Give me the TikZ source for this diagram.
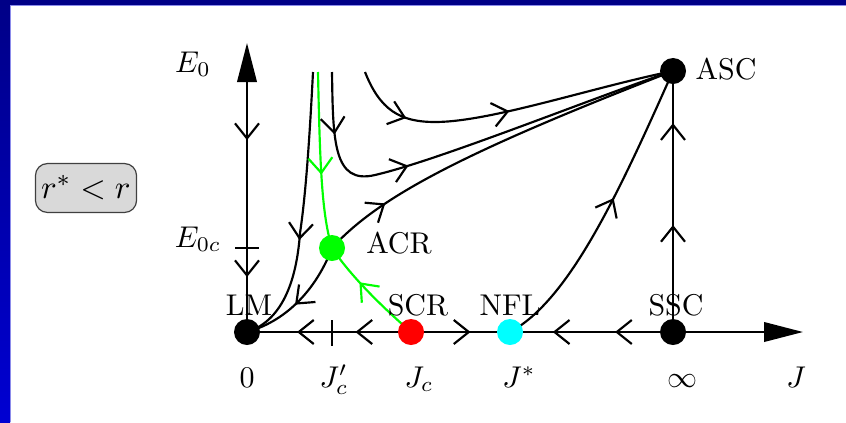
\documentclass[tikz,border=0pt]{standalone}
\usetikzlibrary{arrows.meta,decorations.markings}
\definecolor{navy}{RGB}{0,0,135}
\definecolor{bblue}{RGB}{0,0,210}
\definecolor{edgeblue}{RGB}{140,140,235}
\definecolor{boxgray}{RGB}{217,217,217}
\definecolor{purecyan}{RGB}{0,255,255}
\definecolor{puregreen}{RGB}{0,255,0}
\definecolor{purered}{RGB}{255,0,0}
\pgfdeclarelayer{bg}
\pgfsetlayers{bg,main}
\tikzset{
  ln/.style={line width=0.72pt},
  sb/.tip={Straight Barb[length=5pt,width=8pt]},
  fwd/.style={postaction={decorate,decoration={markings,mark=at position #1 with {\arrow{sb}}}}},
  bwd/.style={postaction={decorate,decoration={markings,mark=at position #1 with {\arrowreversed{sb}}}}},
  dot/.style={circle,inner sep=0pt,minimum size=8.67pt},
  lab/.style={anchor=base,inner sep=0pt},
  bigtip/.style={-{Triangle[length=13pt,width=6.5pt]}},
}
\begin{document}
\begin{tikzpicture}[x=0.33333pt,y=-0.33333pt]
\useasboundingbox (0,0) rectangle (846,422);

% fixed points
\node[dot,fill=black] (LM) at (247,332) {};
\node[dot,fill=puregreen] (ACR) at (332,248) {};
\node[dot,fill=purered] (SCR) at (411,332) {};
\node[dot,fill=purecyan] (NFL) at (510,332) {};
\node[dot,fill=black] (SSC) at (673,332) {};
\node[dot,fill=black] (ASC) at (673,71) {};

\coordinate (Etop) at (247,43);
\coordinate (Jend) at (803,332);
\coordinate (t1) at (313,72);
\coordinate (t2) at (318,72);
\coordinate (t3) at (332,72);
\coordinate (t4) at (365,72);

\begin{pgfonlayer}{bg}
\fill[white] (0,0) rectangle (846,422);
\shade[top color=navy,bottom color=bblue] (0,0) rectangle (10,422);
\fill[navy] (0,0) rectangle (846,5);
\draw[edgeblue,line width=0.35pt] (10.5,422) -- (10.5,5.5) -- (846,5.5);
% axes
\draw[ln,bigtip,bwd=0.19,bwd=0.664] (LM.center) -- (Etop);
\draw[ln,bigtip,bwd=0.09,bwd=0.195,fwd=0.402,bwd=0.55,bwd=0.662] (LM.center) -- (Jend);
% ticks
\draw[ln] (235,248) -- (259,248);
\draw[ln] (332,320) -- (332,346);
% SSC -> ASC
\draw[ln,fwd=0.41,fwd=0.8] (SSC.center) -- (ASC.center);
% flows
\draw[ln,fwd=0.6] (t1) .. controls (309,150) and (305,200) .. (300,233)
   .. controls (297,275) and (285,320) .. (LM.center);
\draw[ln,puregreen,fwd=0.58] (t2) .. controls (320,170) and (322,215) .. (ACR.center);
\draw[ln,puregreen,fwd=0.62] (SCR.center) .. controls (380,305) and (350,275) .. (ACR.center);
\draw[ln,fwd=0.55] (ACR.center) .. controls (318,285) and (290,320) .. (LM.center);
\draw[ln,fwd=0.18] (ACR.center) .. controls (380,195) and (470,150) .. (ASC.center);
\draw[ln,fwd=0.14,fwd=0.37] (t3) .. controls (333,140) and (333,185) .. (375,175)
   .. controls (440,160) and (600,95) .. (ASC.center);
\draw[ln,fwd=0.19,fwd=0.5] (t4) .. controls (380,110) and (400,122) .. (435,122)
   .. controls (490,122) and (590,88) .. (ASC.center);
\draw[ln,fwd=0.55] (NFL.center) .. controls (570,300) and (620,190) .. (ASC.center);
\end{pgfonlayer}

% labels
\node[lab] (lLM) at (249,315) {LM};
\node[lab] (lSCR) at (418,315) {SCR};
\node[lab] (lNFL) at (510,315) {NFL};
\node[lab] (lSSC) at (676,315) {SSC};
\node[lab] (lACR) at (399,253) {ACR};
\node[lab] (lASC) at (726,79) {ASC};
\node[lab] (x0) at (247,387) {$0$};
\node[lab] (xJcp) at (334,387) {$J_c'$};
\node[lab] (xJc) at (419,387) {$J_c$};
\node[lab] (xJs) at (519,387) {$J^*$};
\node[lab] (xinf) at (682,387) {$\infty$};
\node[lab] (xJ) at (796,387) {$J$};
\node[lab] (yE0) at (193,72) {$E_0$};
\node[lab] (yE0c) at (198,247) {$E_{0c}$};

\node[draw=black!75,fill=boxgray,rounded corners=4pt,minimum width=33.7pt,
  minimum height=16.3pt,inner sep=1pt,font=\fontsize{10.95}{13}\selectfont] (rbox) at (86,188) {$r^*<r$};
\end{tikzpicture}
\end{document}
